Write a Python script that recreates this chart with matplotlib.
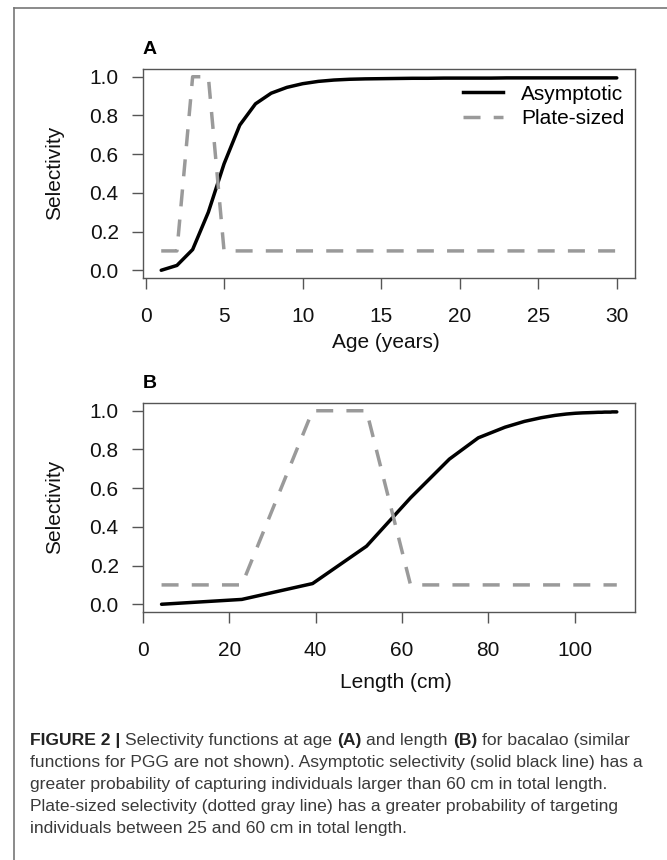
import matplotlib
matplotlib.use('Agg')
import matplotlib.pyplot as plt
from matplotlib.lines import Line2D

plt.rcParams['font.family'] = ['Liberation Sans', 'DejaVu Sans']

# 数据：年龄、对应体长、两种选择性曲线
age = [1, 2, 3, 4, 5, 6, 7, 8, 9, 10,
       11, 12, 13, 14, 15, 16, 17, 18, 19, 20,
       21, 22, 23, 24, 25, 26, 27, 28, 29, 30]
length_cm = [4.3, 22.9, 39.3, 51.8, 62.0, 71.0, 77.7, 83.9, 88.4, 92.3,
             95.5, 98.1, 100.2, 101.9, 103.3, 104.5, 105.5, 106.3, 107.0, 107.6,
             108.0, 108.4, 108.7, 109.0, 109.2, 109.4, 109.5, 109.6, 109.7, 109.8]
asymptotic = [0.0, 0.025, 0.107, 0.30, 0.55, 0.75, 0.86, 0.915, 0.945, 0.964,
              0.976, 0.983, 0.987, 0.989, 0.990, 0.991, 0.992, 0.992, 0.993, 0.993,
              0.993, 0.993, 0.994, 0.994, 0.994, 0.994, 0.994, 0.994, 0.994, 0.994]
plate_sized = [0.1, 0.1, 1.0, 1.0, 0.1, 0.1, 0.1, 0.1, 0.1, 0.1,
               0.1, 0.1, 0.1, 0.1, 0.1, 0.1, 0.1, 0.1, 0.1, 0.1,
               0.1, 0.1, 0.1, 0.1, 0.1, 0.1, 0.1, 0.1, 0.1, 0.1]

age_ticks = [0, 5, 10, 15, 20, 25, 30]
length_ticks = [0, 20, 40, 60, 80, 100]
sel_ticks = [0.0, 0.2, 0.4, 0.6, 0.8, 1.0]

W, H = 667, 860
fig = plt.figure(figsize=(W / 100, H / 100), dpi=100)

box_c = '#555555'
gray = '#9a9a9a'
fs = 15
dash = (0, (4.9, 3.8))


def px_axes(x0, y0, x1, y1):
    return fig.add_axes([x0 / W, 1 - y1 / H, (x1 - x0) / W, (y1 - y0) / H])


def style_axes(ax, xticks):
    for s in ax.spines.values():
        s.set_color(box_c)
        s.set_linewidth(1.0)
    ax.set_xticks(xticks)
    ax.set_yticks(sel_ticks)
    ax.set_yticklabels([f'{v:.1f}' for v in sel_ticks])
    ax.tick_params(direction='out', length=8, width=1.0, color=box_c,
                   labelsize=fs, labelcolor='#111111')
    ax.tick_params(axis='x', pad=13)
    ax.tick_params(axis='y', pad=9.5)


# 图A：按年龄
axA = px_axes(143, 69, 635, 278)
axA.plot(age, asymptotic, c='black', lw=2.5, solid_capstyle='round')
axA.plot(age, plate_sized, c=gray, lw=2.5, ls=dash)
axA.set_xlim(1 - 0.04 * 29, 30 + 0.04 * 29)
axA.set_ylim(-0.04, 1.04)
style_axes(axA, age_ticks)

handles = [Line2D([], [], c='black', lw=2.5),
           Line2D([], [], c=gray, lw=2.5, ls=dash)]
axA.legend(handles, ['Asymptotic', 'Plate-sized'], loc='upper right',
           bbox_to_anchor=(0.978, 0.925), frameon=False, fontsize=fs,
           handlelength=1.95, handletextpad=0.85, labelspacing=0.25,
           borderpad=0, borderaxespad=0)

# 图B：按体长
axB = px_axes(143, 403, 635, 612)
axB.plot(length_cm, asymptotic, c='black', lw=2.5, solid_capstyle='round')
axB.plot(length_cm, plate_sized, c=gray, lw=2.5, ls=dash)
span = length_cm[-1] - length_cm[0]
axB.set_xlim(length_cm[0] - 0.04 * span, length_cm[-1] + 0.04 * span)
axB.set_ylim(-0.04, 1.04)
style_axes(axB, length_ticks)


def ftext(x, y, s, **kw):
    return fig.text(x / W, 1 - y / H, s, **kw)


ftext(143, 50, 'A', fontsize=14, fontweight='bold', ha='left', va='center')
ftext(143, 384, 'B', fontsize=14, fontweight='bold', ha='left', va='center')
ftext(55, 173, 'Selectivity', fontsize=fs, rotation=90, ha='center', va='center', color='#111111')
ftext(55, 507, 'Selectivity', fontsize=fs, rotation=90, ha='center', va='center', color='#111111')
ftext(386, 342, 'Age (years)', fontsize=fs, ha='center', va='center', color='#111111')
ftext(396, 682, 'Length (cm)', fontsize=fs, ha='center', va='center', color='#111111')

# 外框（上边和左边）
fig.add_artist(Line2D([14 / W, 1], [1 - 8 / H, 1 - 8 / H], color='#777777', lw=1.2))
fig.add_artist(Line2D([14 / W, 14 / W], [0, 1 - 8 / H], color='#777777', lw=1.2))

# 图注
cap_font = ['Liberation Sans', 'DejaVu Sans']
cap_fs = 12.6
cap_lines = [
    [('FIGURE 2 |', 'bold'), (' Selectivity functions at age ', 'normal'), ('(A)', 'bold'),
     (' and length ', 'normal'), ('(B)', 'bold'), (' for bacalao (similar', 'normal')],
    [('functions for PGG are not shown). Asymptotic selectivity (solid black line) has a', 'normal')],
    [('greater probability of capturing individuals larger than 60 cm in total length.', 'normal')],
    [('Plate-sized selectivity (dotted gray line) has a greater probability of targeting', 'normal')],
    [('individuals between 25 and 60 cm in total length.', 'normal')],
]
renderer = fig.canvas.get_renderer()
t1 = fig.text(0, 0, 'a a', fontsize=cap_fs, family=cap_font)
t2 = fig.text(0, 0, 'aa', fontsize=cap_fs, family=cap_font)
space_w = t1.get_window_extent(renderer).width - t2.get_window_extent(renderer).width
t1.remove()
t2.remove()

y = 740
for runs in cap_lines:
    x = 30.0
    for txt, wt in runs:
        lead = len(txt) - len(txt.lstrip(' '))
        trail = len(txt) - len(txt.rstrip(' '))
        x += lead * space_w
        col = '#222222' if wt == 'bold' else '#3a3a3a'
        t = ftext(x, y, txt.strip(' '), fontsize=cap_fs, fontweight=wt,
                  family=cap_font, ha='left', va='center', color=col)
        x += t.get_window_extent(renderer).width + trail * space_w
    y += 22

fig.savefig('out.png', dpi=100)
